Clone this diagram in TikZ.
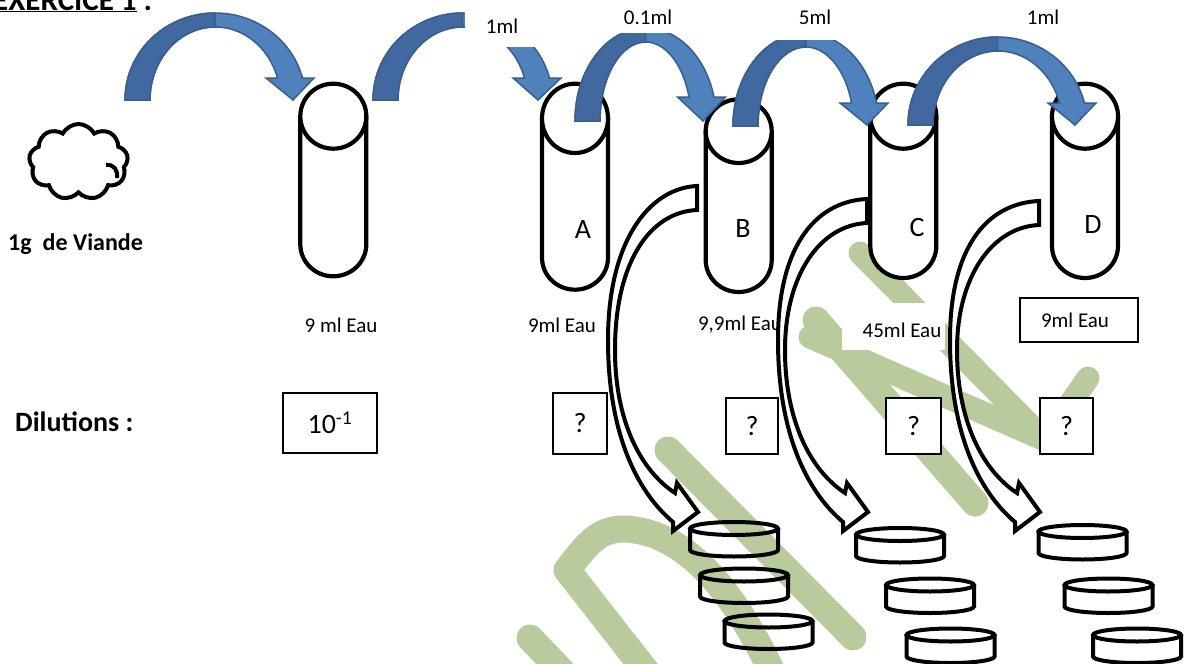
\documentclass[tikz,border=0pt]{standalone}
\usepackage{fontspec}
\setmainfont{Carlito}
\usetikzlibrary{shapes.symbols}

\definecolor{wmgreen}{HTML}{B9CA9D}
\definecolor{arrowlight}{HTML}{4F81BD}
\definecolor{arrowdark}{HTML}{41699F}
\definecolor{arrowline}{HTML}{3A5F8E}

\tikzset{
  tubeline/.style={draw=black, fill=white, line width=4.2},
  dishline/.style={draw=black, line width=4},
  hollow/.style={draw=black, fill=white, line width=4, line join=miter},
  wmark/.style={draw=wmgreen, line width=27, line cap=round, line join=round},
  wmarkthin/.style={wmark, line width=23},
  arrowfront/.style={fill=arrowlight, draw=arrowline, line width=1.5},
  arrowback/.style={fill=arrowdark, draw=arrowline, line width=1.5},
  lbl/.style={inner sep=0, font=\fontsize{21}{25}\selectfont},
  big/.style={inner sep=0, font=\fontsize{28}{33}\selectfont},
  qbox/.style={draw=black, line width=1.2, fill=white, inner sep=0,
               font=\fontsize{28}{33}\selectfont},
}

% test tube: name, centre x, top y, lower edge of the mouth, bottom y
\newcommand{\drawtube}[5]{%
  \pgfmathsetmacro{\tubery}{(#4-#3)/2}%
  \pgfmathsetmacro{\tubecy}{#3+\tubery}%
  \filldraw[tubeline] (#2-33,\tubecy) -- (#2-33,#5-32)
     arc[start angle=180,end angle=0,x radius=33,y radius=32] -- (#2+33,\tubecy);
  \filldraw[tubeline] (#2,\tubecy) ellipse[x radius=33,y radius=\tubery];
  \coordinate (#1) at (#2,\tubecy);
}

% Petri dish: name, centre x, y of the rim centre
\newcommand{\petri}[3]{%
  \draw[dishline] (#2-44,#3) -- (#2-44,#3+21.5)
     arc[start angle=180,end angle=0,x radius=44,y radius=6.5] -- (#2+44,#3);
  \draw[dishline] (#2,#3) ellipse[x radius=44,y radius=6.5];
  \coordinate (#1) at (#2,#3);
}

% curved transfer arrow: tail x, tail base y, outer top y, head centre x,
% head base y, tip x, tip y
\newcommand{\bluearrow}[7]{%
  \pgfmathsetmacro{\ryO}{#2-#3}%
  \pgfmathsetmacro{\ryI}{\ryO-14}%
  \pgfmathsetmacro{\aO}{asin((#2-#5)/\ryO)}%
  \pgfmathsetmacro{\aI}{asin((#2-#5)/\ryI)}%
  \pgfmathsetmacro{\rxO}{(#4+12.5-#1)/(1+cos(\aO))}%
  \pgfmathsetmacro{\rxI}{(#4-12.5-#1-25)/(1+cos(\aI))}%
  \pgfmathsetmacro{\cxI}{#1+25+\rxI}%
  \pgfmathsetmacro{\eO}{360-\aO}%
  \pgfmathsetmacro{\eI}{360-\aI}%
  \filldraw[arrowfront] (#1,#2)
     arc[start angle=180,end angle=\eO,x radius=\rxO,y radius=\ryO]
     -- (#4+24,#5) -- (#6,#7) -- (#4-24,#5) -- (#4-12.5,#5)
     arc[start angle=\eI,end angle=180,x radius=\rxI,y radius=\ryI] -- cycle;
  \filldraw[arrowback] (#1,#2)
     arc[start angle=180,end angle=270,x radius=\rxO,y radius=\ryO]
     -- (\cxI,#2-\ryI)
     arc[start angle=270,end angle=180,x radius=\rxI,y radius=\ryI] -- cycle;
}

% hollow curved arrow towards the dishes: horizontal shift, tail y offset
\newcommand{\hollowarrow}[2]{%
  \begin{scope}[xshift=#1]
  \filldraw[hollow] (697,186+#2) .. controls (650,188+#2) and (608,240) .. (608,340)
     .. controls (608,430) and (635,490) .. (673,522)
     -- (673,531) -- (698,512) -- (677,483) -- (675,493)
     .. controls (640,470) and (615,420) .. (615,350)
     .. controls (615,262+#2) and (650,212+#2) .. (697,210+#2) -- cycle;
  \end{scope}
}

\begin{document}
\begin{tikzpicture}[x=1pt,y=-1pt]
\useasboundingbox (0,0) rectangle (1184,664);
\fill[white] (0,0) rectangle (1184,664);

% watermark strokes
\draw[wmark] (668,450) -- (853,637);
\draw[wmark, line cap=butt] (657,685) -- (567,570)
   .. controls (590,540) and (600,529) .. (625,529)
   .. controls (690,532) and (740,600) .. (778,685);
\draw[wmark] (530,638) -- (575,685);
\draw[wmark] (816,320) -- (975,503);
\draw[wmarkthin] (810,337) -- (1045,440) -- (1088,378);
\draw[wmarkthin] (860,253) -- (1045,440);

% sample
\node[cloud, draw=black, line width=4, cloud puffs=9, cloud puff arc=125,
      cloud ignores aspect, minimum width=99, minimum height=76, inner sep=0]
      (meat) at (78.5,162) {};
\draw[line width=4] (106,165) .. controls (114,164) and (118,170) .. (117,178);

% tubes
\drawtube{t0}{333.3}{83.7}{148.7}{276.3}
\drawtube{tA}{575}{83.7}{153}{289.7}
\drawtube{tB}{738.7}{99.3}{163}{292}
\drawtube{tC}{903.3}{83.7}{148.7}{278}
\drawtube{tD}{1085}{83.7}{148.7}{278}

% transfer arrows
\bluearrow{125}{100}{13}{290}{78}{293}{100}
\bluearrow{373}{100}{13}{537}{78}{538}{100}
\bluearrow{575}{121}{28}{701.5}{97}{703}{121}
\bluearrow{733}{126}{33}{864}{103}{867}{125}
\bluearrow{908}{125}{37}{1072}{103}{1075}{125}
\fill[white] (465,-5) rectangle (562,47);
\fill[white] (600,-5) rectangle (700,33);
\fill[white] (770,-5) rectangle (850,40);

% volumes transferred
\node[lbl] (v1) at (502,26) {1ml};
\node[lbl] (v2) at (648,17) {0.1ml};
\node[lbl] (v3) at (815,17) {5ml};
\node[lbl] (v4) at (1043,17) {1ml};

% title and sample label
\node[anchor=base west, inner sep=0, font=\fontsize{31}{36}\selectfont\bfseries]
   (title) at (-7,10) {\underline{EXERCICE 1} :};
\node[anchor=base west, inner sep=0, font=\fontsize{24}{29}\selectfont\bfseries]
   (meatlbl) at (8,250.5) {1g\hspace{11pt}de Viande};

% tube letters
\node[big] (la) at (583,230) {A};
\node[big] (lb) at (743,229) {B};
\node[big] (lc) at (917,228) {C};
\node[big] (ld) at (1093,225) {D};

% diluent volumes
\node[lbl] (w0) at (341,325) {9 ml Eau};
\node[lbl] (wA) at (562,325) {9ml Eau};
\node[lbl] (wB) at (740,325) {9,9ml Eau};
\fill[white] (842,303) rectangle (945,350);
\node[lbl] (wC) at (902,330) {45ml Eau};
\node[lbl, draw=black, line width=1.2, fill=white, minimum width=118,
      minimum height=44] (wD) at (1079,320) {\hspace{-8pt}9ml Eau};

% dilution factors
\node[anchor=base west, inner sep=0, font=\fontsize{28}{33}\selectfont\bfseries]
   (dil) at (15,431.5) {Dilutions :};
\node[qbox, minimum width=94, minimum height=60] (d0) at (330,423)
   {10\textsuperscript{-1}};
\node[qbox, minimum width=54, minimum height=61] (dA) at (580,423.5) {?};
\node[qbox, minimum width=52, minimum height=56] (dB) at (752,426) {?};
\node[qbox, minimum width=55, minimum height=56] (dC) at (913.5,426) {?};
\node[qbox, minimum width=53, minimum height=56] (dD) at (1066.5,426) {?};

% plating arrows
\hollowarrow{0}{0}
\hollowarrow{170}{13}
\hollowarrow{342}{15}

% Petri dishes
\petri{p1a}{734}{528.5}
\petri{p1b}{744}{575}
\petri{p1c}{768.5}{621}
\petri{p2a}{900}{534.5}
\petri{p2b}{930}{585}
\petri{p2c}{950.5}{635}
\petri{p3a}{1082.5}{531.5}
\petri{p3b}{1108.5}{585}
\petri{p3c}{1137}{635}
\end{tikzpicture}
\end{document}
